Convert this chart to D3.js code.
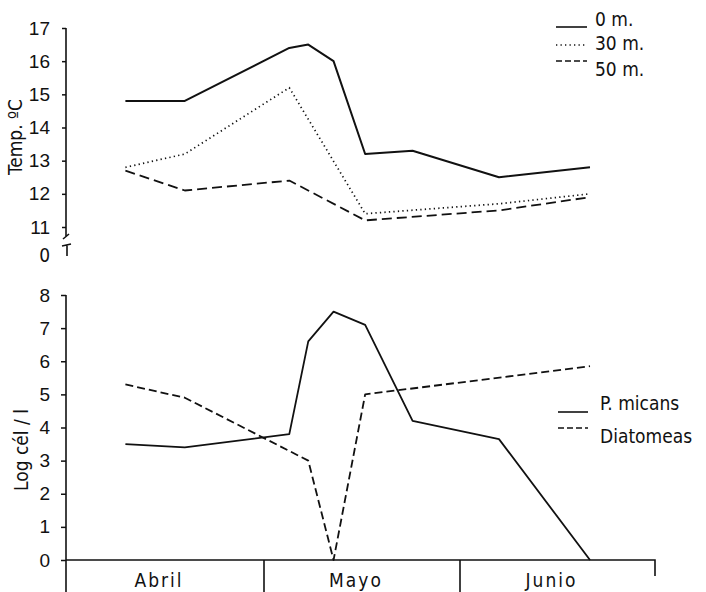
<!DOCTYPE html>
<meta charset="utf-8">
<style>
	body{margin:0;background:#fff;}
	svg{display:block;font-family:"DejaVu Sans Condensed","DejaVu Sans",sans-serif;}
	.axis text{font-size:19px;fill:#111;}
	.axis line{stroke:#111;stroke-width:1.5;}
	.eje{stroke:#111;stroke-width:1.6;fill:none;}
	.serie{fill:none;stroke:#111;stroke-linejoin:round;}
	.lbl{font-size:19px;fill:#111;}
</style>
<body>
<svg width="706" height="592" id="chart"></svg>
<script src="https://cdn.jsdelivr.net/npm/d3@7"></script>
<script>
	// meses y dias desde el 1 de abril
	var months = ["Abril","Mayo","Junio"];
	var monthStart = [0,30,61,91];

	// temperatura (arriba)
	var tempTicks = [11,12,13,14,15,16,17];
	var dias0 = [9,18,34,37,41,46,53.5,67,81];
	var temp0 = [14.8,14.8,16.4,16.5,16.0,13.2,13.3,12.5,12.8];
	var dias30 = [9,18,34,46,67,81];
	var temp30 = [12.8,13.2,15.2,11.4,11.7,12.0];
	var dias50 = [9,18,34,46,67,81];
	var temp50 = [12.7,12.1,12.4,11.2,11.5,11.9];
	var tempNames = ["0 m.","30 m.","50 m."];

	// log cel / l (abajo)
	var logTicks = [0,1,2,3,4,5,6,7,8];
	var diasMicans = [9,18,34,37,41,46,53.5,67,81];
	var logMicans = [3.5,3.4,3.8,6.6,7.5,7.1,4.2,3.65,0];
	var diasDiat = [9,18,37,41,46,81];
	var logDiat = [5.3,4.9,3.0,0,5.0,5.85];
	var cellNames = ["P. micans","Diatomeas"];

	var svg = d3.select("#chart");
	var x0 = 66;

	var x = d3.scaleLinear().domain(monthStart).range([66,264,460,655]);
	var yT = d3.scaleLinear().domain([11,17]).range([227,28]);
	var yL = d3.scaleLinear().domain([0,8]).range([560,295]);

	function pts(d, v){ return d.map(function(e,i){ return [e, v[i]]; }); }

	/* ---- panel de temperatura ---- */
	var gT = svg.append("g").attr("class","axis")
		.attr("transform","translate("+x0+",0)")
		.call(d3.axisLeft(yT).tickValues(tempTicks).tickSize(4).tickPadding(12).tickFormat(d3.format("d")));
	gT.select(".domain").remove();

	svg.append("path").attr("class","eje")
		.attr("d","M"+x0+","+yT(17)+"V236");
	// corte del eje
	svg.append("path").attr("class","eje").attr("d","M63,239L69,234M62,246L71,244M"+(x0+1)+",245V256");
	svg.append("text").attr("class","lbl").attr("x",x0-16).attr("y",256).attr("dy","0.32em")
		.attr("text-anchor","end").text("0");

	svg.append("text").attr("class","lbl")
		.attr("transform","translate(22,137) rotate(-90)")
		.attr("text-anchor","middle").text("Temp. ºC");

	var lineT = d3.line().x(function(d){ return x(d[0]); }).y(function(d){ return yT(d[1]); });
	var tempSeries = [
		{p:pts(dias0,temp0), w:2, dash:null},
		{p:pts(dias30,temp30), w:1.7, dash:"1.3,3.2"},
		{p:pts(dias50,temp50), w:1.8, dash:"10,5"}
	];
	svg.selectAll("path.temp").data(tempSeries).enter().append("path")
		.attr("class","serie temp")
		.attr("d",function(d){ return lineT(d.p); })
		.attr("stroke-width",function(d){ return d.w; })
		.attr("stroke-dasharray",function(d){ return d.dash; });

	// leyenda de temperatura
	var legT = [{y:27, ty:26, dash:null},{y:45, ty:50, dash:"1.3,3.2"},{y:61, ty:76, dash:"6,3"}];
	legT.forEach(function(l,i){
		svg.append("line").attr("class","serie").attr("x1",556).attr("x2",587)
			.attr("y1",l.y).attr("y2",l.y).attr("stroke-width",1.6)
			.attr("stroke-dasharray",l.dash);
		svg.append("text").attr("class","lbl").attr("x",595).attr("y",l.ty).text(tempNames[i]);
	});

	/* ---- panel de celulas ---- */
	var gL = svg.append("g").attr("class","axis")
		.attr("transform","translate("+x0+",0)")
		.call(d3.axisLeft(yL).tickValues(logTicks).tickSize(5).tickPadding(11).tickFormat(d3.format("d")));
	gL.select(".domain").remove();

	svg.append("path").attr("class","eje").attr("d","M"+x0+","+yL(8)+"V592");
	svg.append("path").attr("class","eje").attr("d","M"+x0+","+yL(0)+"H"+x(91)+"V576");
	// separadores de meses
	svg.selectAll("line.mes").data(monthStart.slice(1,3)).enter().append("line")
		.attr("class","eje mes")
		.attr("x1",function(d){ return x(d); }).attr("x2",function(d){ return x(d); })
		.attr("y1",yL(0)).attr("y2",592);
	svg.selectAll("text.mes").data(months).enter().append("text")
		.attr("class","lbl mes")
		.attr("x",function(d,i){ return (x(monthStart[i])+x(monthStart[i+1]))/2 - 6; })
		.attr("y",587).attr("text-anchor","middle").style("letter-spacing","2px")
		.text(function(d){ return d; });

	svg.append("text").attr("class","lbl")
		.attr("transform","translate(28,450) rotate(-90)")
		.attr("text-anchor","middle").text("Log cél / l");

	var lineL = d3.line().x(function(d){ return x(d[0]); }).y(function(d){ return yL(d[1]); });
	var cellSeries = [
		{p:pts(diasMicans,logMicans), dash:null},
		{p:pts(diasDiat,logDiat), dash:"8,4"}
	];
	svg.selectAll("path.cel").data(cellSeries).enter().append("path")
		.attr("class","serie cel")
		.attr("d",function(d){ return lineL(d.p); })
		.attr("stroke-width",1.8)
		.attr("stroke-dasharray",function(d){ return d.dash; });

	var legL = [{y:412, ty:410, dash:null},{y:428, ty:443, dash:"6,3"}];
	legL.forEach(function(l,i){
		svg.append("line").attr("class","serie").attr("x1",558).attr("x2",588)
			.attr("y1",l.y).attr("y2",l.y).attr("stroke-width",1.6)
			.attr("stroke-dasharray",l.dash);
		svg.append("text").attr("class","lbl").attr("x",600).attr("y",l.ty).text(cellNames[i]);
	});
</script>
</body>
